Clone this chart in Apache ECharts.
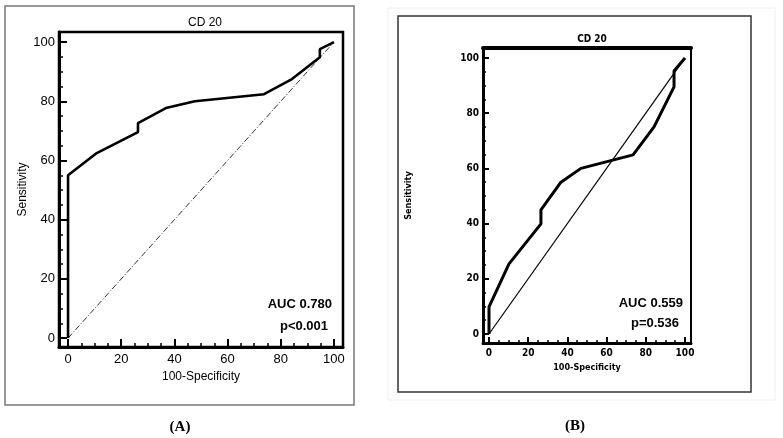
<!DOCTYPE html>
<html>
<head>
<meta charset="utf-8">
<script src="https://cdn.jsdelivr.net/npm/echarts@6/dist/echarts.min.js"></script>
<style>html,body{margin:0;padding:0;background:#fff}#c{width:783px;height:438px}</style>
</head>
<body>
<div id="c"></div>
<script>
// ---- data ----
const ticks = [0, 20, 40, 60, 80, 100];
const minorTicks = [5, 10, 15, 25, 30, 35, 45, 50, 55, 65, 70, 75, 85, 90, 95];
const xA = [0, 0, 10.8, 26.3, 26.3, 36.8, 47.7, 73.7, 84.2, 94.7, 94.7, 100];
const yA = [0, 55, 62.5, 69.6, 72.6, 77.7, 80, 82.4, 87.5, 94.9, 97.6, 100];
const xB = [0, 0, 10.2, 26.5, 26.5, 36.7, 46.9, 73.5, 84.2, 94.4, 94.4, 100];
const yB = [0, 9.8, 25.4, 39.9, 45, 55, 60, 64.9, 75, 89.5, 95.3, 100];
const diag = [0, 100];
const titleA = 'CD 20', titleB = 'CD 20';
const aucA = ['AUC 0.780', 'p<0.001'];
const aucB = ['AUC 0.559', 'p=0.536'];

const fontA = 'Liberation Sans, Arial, sans-serif';
const fontB = 'Liberation Sans Narrow, DejaVu Sans Condensed, Liberation Sans, sans-serif';

const pair = (xs, ys) => xs.map((x, i) => [x, ys[i]]);

function mainX(grid, min, max, tickLen, fs, fam, nameGap, margin, lw, bold) {
  return {
    type: 'value', gridIndex: grid, min: min, max: max, position: 'bottom',
    name: '100-Specificity', nameLocation: 'middle', nameGap: nameGap,
    nameTextStyle: { fontSize: fs - 1, fontFamily: fam, color: '#000', fontWeight: bold ? 'bold' : 'normal' },
    axisLine: { show: true, onZero: false, lineStyle: { color: '#000', width: lw } },
    axisTick: { show: true, inside: true, length: tickLen, customValues: ticks, lineStyle: { color: '#000', width: 2 } },
    axisLabel: { customValues: ticks, fontSize: fs, fontFamily: fam, color: '#000', margin: margin, fontWeight: bold ? 'bold' : 'normal' },
    splitLine: { show: false }
  };
}
function minorX(grid, min, max, tickLen) {
  return {
    type: 'value', gridIndex: grid, min: min, max: max, position: 'bottom',
    axisLine: { show: false, onZero: false },
    axisTick: { show: true, inside: true, length: tickLen, customValues: minorTicks, lineStyle: { color: '#000', width: 1.5 } },
    axisLabel: { show: false }, splitLine: { show: false }
  };
}
function mainY(grid, min, max, tickLen, fs, fam, nameGap, margin, lw, bold) {
  return {
    type: 'value', gridIndex: grid, min: min, max: max, position: 'left',
    name: 'Sensitivity', nameLocation: 'middle', nameGap: nameGap,
    nameTextStyle: { fontSize: fs - 1, fontFamily: fam, color: '#000', fontWeight: bold ? 'bold' : 'normal' },
    axisLine: { show: true, onZero: false, lineStyle: { color: '#000', width: lw } },
    axisTick: { show: true, inside: true, length: tickLen, customValues: ticks, lineStyle: { color: '#000', width: 2 } },
    axisLabel: { customValues: ticks, fontSize: fs, fontFamily: fam, color: '#000', margin: margin, fontWeight: bold ? 'bold' : 'normal' },
    splitLine: { show: false }
  };
}
function minorY(grid, min, max, tickLen) {
  return {
    type: 'value', gridIndex: grid, min: min, max: max, position: 'left',
    axisLine: { show: false, onZero: false },
    axisTick: { show: true, inside: true, length: tickLen, customValues: minorTicks, lineStyle: { color: '#000', width: 1.5 } },
    axisLabel: { show: false }, splitLine: { show: false }
  };
}

const chart = echarts.init(document.getElementById('c'), null, { renderer: 'canvas' });
chart.setOption({
  animation: false,
  backgroundColor: '#fff',
  title: [
    { text: titleA, left: 200, top: 12, textAlign: 'center', textStyle: { fontSize: 12, fontWeight: 'normal', fontFamily: fontA, color: '#000' } },
    { text: titleB, left: 587, top: 29, textAlign: 'center', textStyle: { fontSize: 10, fontWeight: 'bold', fontFamily: fontB, color: '#000' } }
  ],
  grid: [
    { left: 59, top: 32, width: 284, height: 315, show: true, borderColor: '#000', borderWidth: 2.5, backgroundColor: 'transparent' },
    { left: 483, top: 48, width: 208, height: 295, show: true, borderColor: '#000', borderWidth: 2, backgroundColor: 'transparent' }
  ],
  xAxis: [
    mainX(0, -3.4, 103.4, 8, 13, fontA, 23, 6, 3, false),
    minorX(0, -3.4, 103.4, 4),
    mainX(1, -3.06, 103.06, 6, 10, fontB, 19, 5, 3, true),
    minorX(1, -3.06, 103.06, 3),
    { type: 'value', gridIndex: 1, min: -3.06, max: 103.06, position: 'top',
      axisLine: { show: true, onZero: false, lineStyle: { color: '#000', width: 4 } },
      axisTick: { show: false }, axisLabel: { show: false }, splitLine: { show: false } }
  ],
  yAxis: [
    mainY(0, -3, 103.4, 8, 13, fontA, 30, 4, 3, false),
    minorY(0, -3, 103.4, 4),
    mainY(1, -3.26, 103.6, 6, 10, fontB, 70, 4, 3, true),
    minorY(1, -3.26, 103.6, 3)
  ],
  series: [
    { type: 'line', xAxisIndex: 0, yAxisIndex: 0, data: pair(diag, diag), symbol: 'none', silent: true,
      lineStyle: { color: '#333', width: 1, type: [6, 2, 1, 2] } },
    { type: 'line', xAxisIndex: 0, yAxisIndex: 0, data: pair(xA, yA), symbol: 'none', silent: true,
      lineStyle: { color: '#000', width: 2.6 } },
    { type: 'line', xAxisIndex: 2, yAxisIndex: 2, data: pair(diag, diag), symbol: 'none', silent: true,
      lineStyle: { color: '#000', width: 1.2 } },
    { type: 'line', xAxisIndex: 2, yAxisIndex: 2, data: pair(xB, yB), symbol: 'none', silent: true,
      lineStyle: { color: '#000', width: 3 } }
  ],
  graphic: [
    { type: 'rect', shape: { x: 5, y: 6, width: 349, height: 399 }, style: { fill: 'none', stroke: '#777', lineWidth: 1.5 }, silent: true },
    { type: 'rect', shape: { x: 388, y: 8, width: 387, height: 392 }, style: { fill: 'none', stroke: '#f0f0f0', lineWidth: 1 }, silent: true },
    { type: 'rect', shape: { x: 398, y: 16, width: 353, height: 376 }, style: { fill: 'none', stroke: '#333', lineWidth: 1.5 }, silent: true },
    { type: 'text', x: 332, y: 304, style: { text: aucA[0], align: 'right', verticalAlign: 'middle', font: 'bold 13px ' + fontA, fill: '#000' } },
    { type: 'text', x: 328, y: 326, style: { text: aucA[1], align: 'right', verticalAlign: 'middle', font: 'bold 13px ' + fontA, fill: '#000' } },
    { type: 'text', x: 683, y: 303, style: { text: aucB[0], align: 'right', verticalAlign: 'middle', font: 'bold 13px ' + fontA, fill: '#000' } },
    { type: 'text', x: 679, y: 323, style: { text: aucB[1], align: 'right', verticalAlign: 'middle', font: 'bold 13px ' + fontA, fill: '#000' } },
    { type: 'text', x: 180, y: 427, style: { text: '(A)', align: 'center', verticalAlign: 'middle', font: 'bold 15px Liberation Serif, Times New Roman, serif', fill: '#000' } },
    { type: 'text', x: 575, y: 426, style: { text: '(B)', align: 'center', verticalAlign: 'middle', font: 'bold 15px Liberation Serif, Times New Roman, serif', fill: '#000' } }
  ]
});
</script>
</body>
</html>
